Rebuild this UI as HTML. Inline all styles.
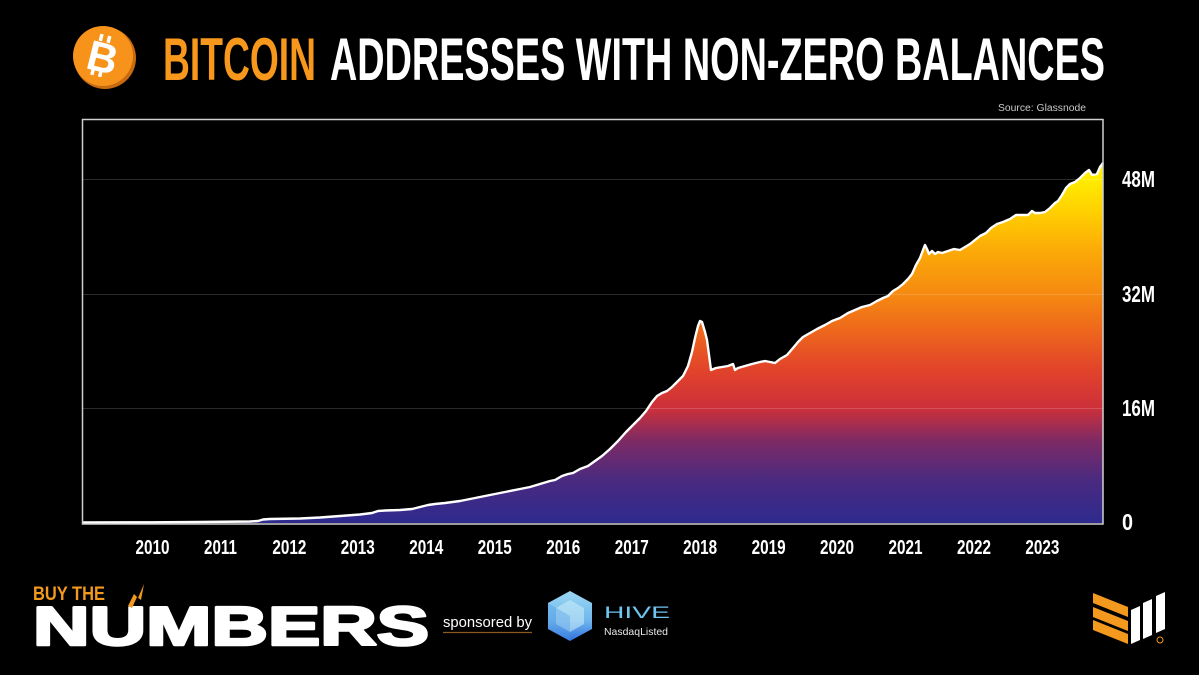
<!DOCTYPE html>
<html>
<head>
<meta charset="utf-8">
<style>
  html,body{margin:0;padding:0;background:#000;}
  body{width:1199px;height:675px;overflow:hidden;}
  svg{display:block;}
</style>
</head>
<body>
<svg width="1199" height="675" viewBox="0 0 1199 675" xmlns="http://www.w3.org/2000/svg">
  <defs>
    <linearGradient id="fillg" gradientUnits="userSpaceOnUse" x1="0" y1="523" x2="0" y2="165">
      <stop offset="0" stop-color="#2e2a8e"/>
      <stop offset="0.12" stop-color="#4a2a80"/>
      <stop offset="0.23" stop-color="#7e2a64"/>
      <stop offset="0.32" stop-color="#cc303a"/>
      <stop offset="0.43" stop-color="#e2442a"/>
      <stop offset="0.54" stop-color="#ee681c"/>
      <stop offset="0.64" stop-color="#f58a10"/>
      <stop offset="0.76" stop-color="#fcaa08"/>
      <stop offset="0.87" stop-color="#ffd000"/>
      <stop offset="0.96" stop-color="#ffec00"/>
      <stop offset="1" stop-color="#fff200"/>
    </linearGradient>
    <linearGradient id="hiveg" x1="0" y1="0" x2="0" y2="1">
      <stop offset="0" stop-color="#9ad8f2"/>
      <stop offset="0.6" stop-color="#6fb6ec"/>
      <stop offset="1" stop-color="#2f6fe0"/>
    </linearGradient>
  </defs>

  <!-- Title -->
  <circle cx="105" cy="58" r="31" fill="#c86a10"/>
  <circle cx="103" cy="56" r="30" fill="#f7931a"/>
  <g transform="rotate(14 103 56)">
    <rect x="95" y="35" width="3.5" height="7" fill="#fff"/>
    <rect x="103" y="35" width="3.5" height="7" fill="#fff"/>
    <rect x="95" y="70" width="3.5" height="7" fill="#fff"/>
    <rect x="103" y="70" width="3.5" height="7" fill="#fff"/>
    <text x="103" y="72" font-family="Liberation Sans, sans-serif" font-weight="bold" font-size="42" fill="#fff" text-anchor="middle">B</text>
  </g>
  <text x="163" y="80" font-family="Liberation Sans Narrow, Liberation Sans, sans-serif" font-weight="bold" font-size="60" fill="#f7981c" textLength="153" lengthAdjust="spacingAndGlyphs">BITCOIN</text>
  <text x="330" y="80" font-family="Liberation Sans Narrow, Liberation Sans, sans-serif" font-weight="bold" font-size="60" fill="#ffffff" textLength="775" lengthAdjust="spacingAndGlyphs">ADDRESSES WITH NON-ZERO BALANCES</text>

  <text x="998" y="111" font-family="Liberation Sans, sans-serif" font-size="10" fill="#c8c8c8" textLength="88" lengthAdjust="spacingAndGlyphs">Source: Glassnode</text>

  <!-- Area -->
  <path fill="url(#fillg)" d="M82,523 L82,522.5 L150,522.3 L200,522 L250,521.5 L258,521 L263,519.5 L270,519 L300,518.5 L320,517.5 L340,516 L360,514.5 L372,513 L378,511 L385,510.5 L400,510 L412,509 L420,507 L428,505 L435,504 L445,503 L460,501 L475,498 L490,495 L505,492 L520,489 L530,487 L540,484 L550,481 L555,480 L562,476 L568,474 L573,473 L580,469 L588,466 L595,461 L602,456 L610,449 L618,441 L626,432 L633,425 L640,418 L646,411 L652,402 L657,396 L662,393 L667,391 L672,387 L677,382 L683,376 L688,366 L692,352 L695,338 L698,326 L700,321 L702,322 L705,332 L707,340 L709,355 L711,370 L716,368 L722,367 L728,366 L733,364 L735,370 L738,368 L745,366 L752,364 L760,362 L765,361 L770,362 L775,363 L780,359 L787,355 L793,348 L798,342 L803,337 L810,333 L817,329 L825,325 L832,321 L840,318 L848,313 L855,310 L862,307 L870,305 L877,301 L883,298 L888,296 L893,291 L898,288 L903,284 L908,279 L912,274 L916,265 L920,258 L923,250 L925,245 L927,249 L929,254 L932,251 L935,254 L938,252 L942,253 L948,251 L954,249 L960,250 L965,247 L970,244 L975,240 L980,236 L986,233 L991,228 L997,224 L1003,222 L1010,219 L1016,215 L1022,215 L1028,215 L1032,211 L1035,213 L1040,213 L1045,212 L1050,208 L1055,203 L1058,201 L1062,195 L1066,188 L1070,184 L1075,182 L1080,178 L1085,173 L1089,170 L1092,175 L1097,174 L1100,167 L1103,163 L1103,523 Z"/>

  <!-- Grid lines -->
  <g stroke="rgba(255,255,255,0.17)" stroke-width="1">
    <line x1="83" y1="179.5" x2="1103" y2="179.5"/>
    <line x1="83" y1="294.5" x2="1103" y2="294.5"/>
    <line x1="83" y1="408.5" x2="1103" y2="408.5"/>
  </g>

  <!-- Line -->
  <path fill="none" stroke="#ffffff" stroke-width="2.4" stroke-linejoin="round" d="M82,522.5 L150,522.3 L200,522 L250,521.5 L258,521 L263,519.5 L270,519 L300,518.5 L320,517.5 L340,516 L360,514.5 L372,513 L378,511 L385,510.5 L400,510 L412,509 L420,507 L428,505 L435,504 L445,503 L460,501 L475,498 L490,495 L505,492 L520,489 L530,487 L540,484 L550,481 L555,480 L562,476 L568,474 L573,473 L580,469 L588,466 L595,461 L602,456 L610,449 L618,441 L626,432 L633,425 L640,418 L646,411 L652,402 L657,396 L662,393 L667,391 L672,387 L677,382 L683,376 L688,366 L692,352 L695,338 L698,326 L700,321 L702,322 L705,332 L707,340 L709,355 L711,370 L716,368 L722,367 L728,366 L733,364 L735,370 L738,368 L745,366 L752,364 L760,362 L765,361 L770,362 L775,363 L780,359 L787,355 L793,348 L798,342 L803,337 L810,333 L817,329 L825,325 L832,321 L840,318 L848,313 L855,310 L862,307 L870,305 L877,301 L883,298 L888,296 L893,291 L898,288 L903,284 L908,279 L912,274 L916,265 L920,258 L923,250 L925,245 L927,249 L929,254 L932,251 L935,254 L938,252 L942,253 L948,251 L954,249 L960,250 L965,247 L970,244 L975,240 L980,236 L986,233 L991,228 L997,224 L1003,222 L1010,219 L1016,215 L1022,215 L1028,215 L1032,211 L1035,213 L1040,213 L1045,212 L1050,208 L1055,203 L1058,201 L1062,195 L1066,188 L1070,184 L1075,182 L1080,178 L1085,173 L1089,170 L1092,175 L1097,174 L1100,167 L1103,163"/>

  <!-- Frame -->
  <rect x="82.5" y="119.5" width="1020.5" height="404.5" fill="none" stroke="#d0d0d0" stroke-width="1.5"/>

  <!-- Y labels -->
  <g font-family="Liberation Sans Narrow, Liberation Sans, sans-serif" font-weight="bold" font-size="23" fill="#ffffff">
    <text x="1122" y="187" textLength="33" lengthAdjust="spacingAndGlyphs">48M</text>
    <text x="1122" y="302" textLength="33" lengthAdjust="spacingAndGlyphs">32M</text>
    <text x="1122" y="416" textLength="33" lengthAdjust="spacingAndGlyphs">16M</text>
    <text x="1122" y="530" textLength="11" lengthAdjust="spacingAndGlyphs">0</text>
  </g>

  <!-- X labels -->
  <g font-family="Liberation Sans Narrow, Liberation Sans, sans-serif" font-weight="bold" font-size="20.5" fill="#ffffff">
    <text x="135.5" y="554" textLength="34" lengthAdjust="spacingAndGlyphs">2010</text>
    <text x="204" y="554" textLength="33" lengthAdjust="spacingAndGlyphs">2011</text>
    <text x="272.4" y="554" textLength="34" lengthAdjust="spacingAndGlyphs">2012</text>
    <text x="340.8" y="554" textLength="34" lengthAdjust="spacingAndGlyphs">2013</text>
    <text x="409.3" y="554" textLength="34" lengthAdjust="spacingAndGlyphs">2014</text>
    <text x="477.8" y="554" textLength="34" lengthAdjust="spacingAndGlyphs">2015</text>
    <text x="546.2" y="554" textLength="34" lengthAdjust="spacingAndGlyphs">2016</text>
    <text x="614.7" y="554" textLength="34" lengthAdjust="spacingAndGlyphs">2017</text>
    <text x="683.1" y="554" textLength="34" lengthAdjust="spacingAndGlyphs">2018</text>
    <text x="751.6" y="554" textLength="34" lengthAdjust="spacingAndGlyphs">2019</text>
    <text x="820" y="554" textLength="34" lengthAdjust="spacingAndGlyphs">2020</text>
    <text x="888.5" y="554" textLength="34" lengthAdjust="spacingAndGlyphs">2021</text>
    <text x="957" y="554" textLength="34" lengthAdjust="spacingAndGlyphs">2022</text>
    <text x="1025.4" y="554" textLength="34" lengthAdjust="spacingAndGlyphs">2023</text>
  </g>

  <!-- Footer: Buy the Numbers -->
  <text x="33" y="600" font-family="Liberation Sans, sans-serif" font-weight="bold" font-size="19" fill="#f39a1e" textLength="72" lengthAdjust="spacingAndGlyphs">BUY THE</text>
  <text x="33" y="645" font-family="Liberation Sans, sans-serif" font-weight="bold" font-size="55" fill="#ffffff" stroke="#ffffff" stroke-width="2.6" stroke-linejoin="round" textLength="396" lengthAdjust="spacingAndGlyphs">NUMBERS</text>
  <polygon points="128,606 134,594 138,598 144,584 141,600 137,597 132,608" fill="#f39a1e"/>

  <text x="443" y="627" font-family="Liberation Sans, sans-serif" font-size="15" fill="#ffffff" textLength="89" lengthAdjust="spacingAndGlyphs">sponsored by</text>
  <line x1="443" y1="632.5" x2="532" y2="632.5" stroke="#8a5a22" stroke-width="1.2"/>

  <!-- HIVE logo -->
  <polygon points="570,591 592,603 592,629 570,641 548,629 548,603" fill="url(#hiveg)"/>
  <polygon points="570,600 584,608 584,624 570,632 556,624 556,608" fill="#cdeefa" opacity="0.55"/>
  <polygon points="548,603 570,616 570,641 548,629" fill="#4d97e4" opacity="0.35"/>
  <text x="604" y="618" font-family="Liberation Sans, sans-serif" font-size="17" fill="#6fc4f0" textLength="66" lengthAdjust="spacingAndGlyphs">HIVE</text>
  <text x="604" y="635" font-family="Liberation Sans, sans-serif" font-size="10.5" fill="#e8e8e8" textLength="64" lengthAdjust="spacingAndGlyphs">NasdaqListed</text>

  <!-- Bottom-right logo -->
  <g fill="#f39a1e">
    <polygon points="1093,593 1128,607 1128,617 1093,603"/>
    <polygon points="1093,607 1128,621 1128,631 1093,617"/>
    <polygon points="1093,620 1128,634 1128,644 1093,630"/>
  </g>
  <g fill="#ffffff">
    <polygon points="1131,610 1140,606 1140,640 1131,644"/>
    <polygon points="1143,603 1152,599 1152,635 1143,639"/>
    <polygon points="1156,596 1165,592 1165,629 1156,633"/>
  </g>
  <circle cx="1160" cy="640" r="3" fill="none" stroke="#f39a1e" stroke-width="1"/>
</svg>
</body>
</html>
